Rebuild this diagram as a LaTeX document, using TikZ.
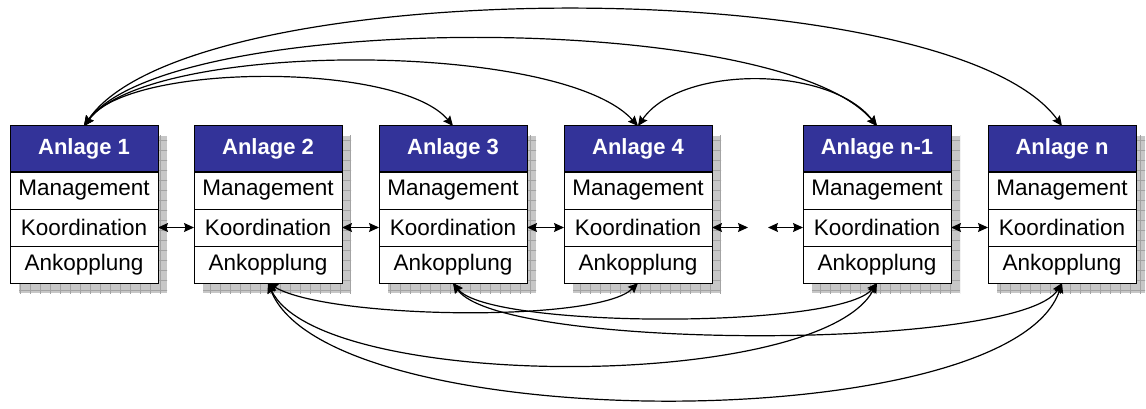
\documentclass[tikz,border=0pt]{standalone}
\usepackage{fontspec}
\setmainfont{Liberation Sans}
\usetikzlibrary{arrows.meta}
\definecolor{hdrblue}{HTML}{333399}
\begin{document}
\begin{tikzpicture}[x=1pt,y=-1pt,
  rowfont/.style={font=\fontsize{22.5}{26}\selectfont},
  cell/.style={draw=black, line width=1pt, fill=white, minimum width=148pt,
    minimum height=37pt, inner sep=0pt, outer sep=0pt, anchor=north west, rowfont},
  hdr/.style={cell, fill=hdrblue, minimum height=46pt, text=white,
    font=\fontsize{22}{26}\selectfont\bfseries},
  shade/.style={fill=black!22},
  shadegrid/.style={draw=black!36, line width=0.5pt},
  link/.style={line width=1.2pt,
    {Stealth[length=10pt,width=9pt,inset=1.5pt]}-{Stealth[length=10pt,width=9pt,inset=1.5pt]}},
]
\useasboundingbox (0,0) rectangle (1146,409);

% drop shadows with their grid texture
\foreach \x in {10,194,379,564,803,988}{
  \begin{scope}
    \clip (\x+9,136) rectangle ++(148,157);
    \fill[shade] (\x+9,136) rectangle ++(148,157);
    \draw[shadegrid, step=10pt] (\x,130) grid ++(170,170);
  \end{scope}
}

% the plant boxes
\foreach \id/\x/\t in {1/10/Anlage 1, 2/194/Anlage 2, 3/379/Anlage 3,
                       4/564/Anlage 4, m/803/Anlage n-1, n/988/Anlage n}{
  \node[hdr]  (h\id) at (\x,126) {\t};
  \node[cell] (m\id) at (\x,172) {Management};
  \node[cell] (k\id) at (\x,209) {Koordination};
  \node[cell] (a\id) at (\x,246) {Ankopplung};
}

% neighbour links between the coordination layers
\coordinate (gapL) at (748,227.5);
\coordinate (gapR) at (768,227.5);
\draw[link] (k1.east) -- (k2.west);
\draw[link] (k2.east) -- (k3.west);
\draw[link] (k3.east) -- (k4.west);
\draw[link] (k4.east) -- (gapL);
\draw[link] (gapR) -- (km.west);
\draw[link] (km.east) -- (kn.west);

% management links over the top
\draw[link] (h1.north) .. controls +(46,-64)  and +(-53,-64)  .. (h3.north);
\draw[link] (h1.north) .. controls +(66,-86)  and +(-78,-86)  .. (h4.north);
\draw[link] (h1.north) .. controls +(86,-116) and +(-98,-116) .. (hm.north);
\draw[link] (h1.north) .. controls +(106,-155) and +(-113,-155) .. (hn.north);
\draw[link] (h4.north) .. controls +(42,-61)  and +(-48,-61)  .. (hm.north);

% coupling links underneath
\draw[link] (a2.south) .. controls +(60,36)  and +(-40,40)  .. (a4.south);
\draw[link] (a2.south) .. controls +(51,109) and +(-58,109) .. (am.south);
\draw[link] (a2.south) .. controls +(61,155) and +(-52,155) .. (an.south);
\draw[link] (a3.south) .. controls +(37,46)  and +(-37,46)  .. (am.south);
\draw[link] (a3.south) .. controls +(47,68)  and +(-42,68)  .. (an.south);
\end{tikzpicture}
\end{document}
